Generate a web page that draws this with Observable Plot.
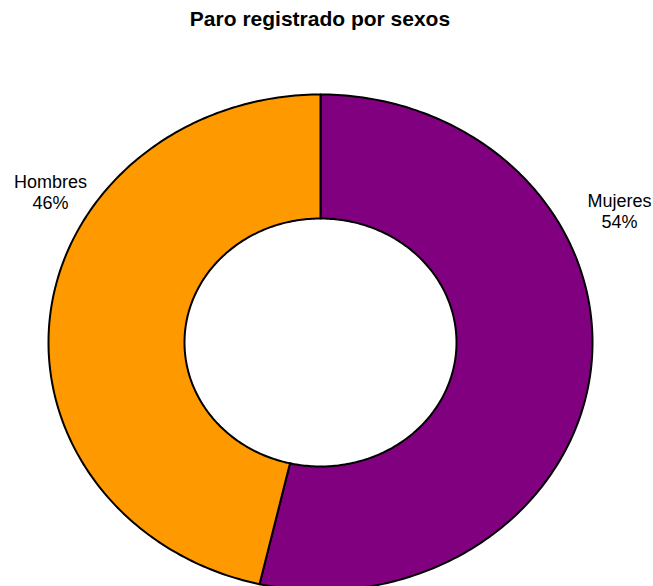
<!DOCTYPE html>
<html>
<head>
<meta charset="utf-8">
<script src="https://cdn.jsdelivr.net/npm/d3@7"></script>
<script src="https://cdn.jsdelivr.net/npm/@observablehq/plot@0.6"></script>
<style>
  html, body { margin: 0; padding: 0; background: #fff; }
  #wrap { position: relative; width: 653px; height: 586px; overflow: hidden; }
  #title { position: absolute; left: 0; top: 6px; width: 640px; text-align: center;
           font: bold 21px "Liberation Sans", Arial, sans-serif; color: #000; line-height: 26px; z-index: 2; }
</style>
</head>
<body>
<div id="wrap"><div id="title">Paro registrado por sexos</div></div>
<script>
const categories = ["Mujeres", "Hombres"];
const values = [53.6, 46.4];
const labels = ["Mujeres\n54%", "Hombres\n46%"];
const colors = ["#800080", "#FF9900"];

// layout (unit coordinates of the ellipse)
const innerR = 0.5;
const labelPos = { Mujeres: [1.099, 0.530], Hombres: [-0.993, 0.606] };

const total = d3.sum(values);
const pts = [];
let cum = 0;
categories.forEach((c, i) => {
  const a0 = cum / total * 2 * Math.PI;
  cum += values[i];
  const a1 = cum / total * 2 * Math.PI;
  const n = Math.max(8, Math.ceil((a1 - a0) / (2 * Math.PI) * 400));
  const ring = [];
  for (let k = 0; k <= n; k++) {
    const a = a0 + (a1 - a0) * k / n;
    ring.push({ sex: c, u: Math.sin(a), v: Math.cos(a) });
  }
  for (let k = n; k >= 0; k--) {
    const a = a0 + (a1 - a0) * k / n;
    ring.push({ sex: c, u: innerR * Math.sin(a), v: innerR * Math.cos(a) });
  }
  ring.push({ ...ring[0] });
  pts.push(...ring);
});

const labelData = categories.map((c, i) => ({ sex: c, text: labels[i], u: labelPos[c][0], v: labelPos[c][1] }));

const chart = Plot.plot({
  width: 653,
  height: 586,
  margin: 0,
  x: { domain: [-320 / 272, 333 / 272], range: [0, 653], axis: null },
  y: { domain: [-244 / 248, 342 / 248], range: [586, 0], axis: null },
  color: { domain: categories, range: colors },
  style: { background: "transparent" },
  marks: [
    Plot.line(pts, { x: "u", y: "v", z: "sex", fill: "sex", stroke: "#000", strokeWidth: 2, curve: "linear", strokeLinejoin: "round" }),
    Plot.text(labelData, { x: "u", y: "v", text: "text", fontSize: 18, lineHeight: 1.15, lineAnchor: "middle", textAnchor: "middle", fill: "#000", fontFamily: "Liberation Sans, Arial, sans-serif" })
  ]
});
document.getElementById("wrap").prepend(chart);
chart.style.position = "absolute";
chart.style.left = "0";
chart.style.top = "0";
</script>
</body>
</html>
